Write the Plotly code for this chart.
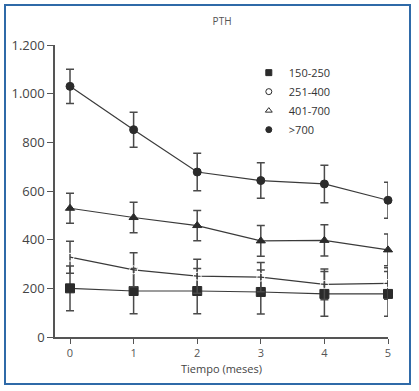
import plotly.graph_objects as go

months = [0, 1, 2, 3, 4, 5]
names = ["150-250", "251-400", "401-700", ">700"]
g150 = [200, 189, 189, 185, 177, 177]
g150_err = [92, 93, 93, 90, 92, 92]
g251 = [328, 276, 250, 246, 216, 220]
g251_err = [66, 70, 70, 60, 63, 65]
g401 = [529, 491, 458, 395, 397, 358]
g401_err = [62, 63, 62, 63, 64, 65]
g700 = [1030, 852, 678, 643, 629, 562]
g700_err = [70, 72, 77, 73, 77, 74]
yticks = [0, 200, 400, 600, 800, 1000, 1200]

series = [g150, g251, g401, g700]
errs = [g150_err, g251_err, g401_err, g700_err]
symbols = ["square", "circle-open", "triangle-up", "circle"]
sizes = [9, 8, 8, 8]
leg_symbols = ["square", "circle-open", "triangle-up-open", "circle"]

dark = "#2b2b2b"
fig = go.Figure()
for name, y, e, sym, sz in zip(names, series, errs, symbols, sizes):
    fig.add_trace(go.Scatter(
        x=months, y=y, mode="lines+markers", name=name, showlegend=False,
        cliponaxis=False,
        line=dict(color="#3a3a3a", width=1.2),
        marker=dict(symbol=sym, size=sz, color=dark if sym != "circle-open" else "white",
                    line=dict(color=dark, width=1)),
        error_y=dict(type="data", array=e, visible=True, color="#4a4a4a",
                     thickness=1.5, width=4),
    ))
for name, sym in zip(names, leg_symbols):
    fig.add_trace(go.Scatter(
        x=[None], y=[None], mode="markers", name=name, showlegend=True,
        marker=dict(symbol=sym, size=6, color=dark, line=dict(color=dark, width=1)),
    ))

fig.update_layout(
    width=419, height=391,
    margin=dict(l=55, r=31, t=45, b=54),
    paper_bgcolor="white", plot_bgcolor="white",
    separators=",.",
    font=dict(family="Open Sans, Noto Sans, sans-serif", color="#444", size=12),
    title=dict(text="PTH", x=0.53, xanchor="center", y=0.945, yanchor="middle",
               font=dict(size=10, color="#555")),
    showlegend=True,
    legend=dict(x=0.582, y=0.955, xanchor="left", yanchor="top",
                bgcolor="rgba(0,0,0,0)", font=dict(size=11, color="#333"),
                tracegroupgap=0, itemwidth=30),
    xaxis=dict(range=[-0.236, 5], tickvals=months, showline=True, linecolor="#555",
               linewidth=1.5, ticks="outside", ticklen=5, tickcolor="#555",
               showgrid=False, zeroline=False,
               title=dict(text="Tiempo (meses)", font=dict(size=11, color="#444"), standoff=6),
               tickfont=dict(size=11, color="#555")),
    yaxis=dict(range=[0, 1200], tickvals=yticks, tickformat=",", showline=True,
               linecolor="#555", linewidth=1.5, ticks="outside", ticklen=6,
               tickcolor="#555", showgrid=False, zeroline=False,
               tickfont=dict(size=13, color="#444")),
    shapes=[dict(type="rect", xref="paper", yref="paper",
                 x0=(5 - 55) / 333, x1=(410 - 55) / 333,
                 y0=-(384 - 337) / 292, y1=(337 - 5) / 292,
                 line=dict(color="#2f6aa8", width=2), fillcolor="rgba(0,0,0,0)", layer="below")],
)
fig.write_html("out.html", config={"displayModeBar": False},
               post_script="document.body.style.margin='0';")
